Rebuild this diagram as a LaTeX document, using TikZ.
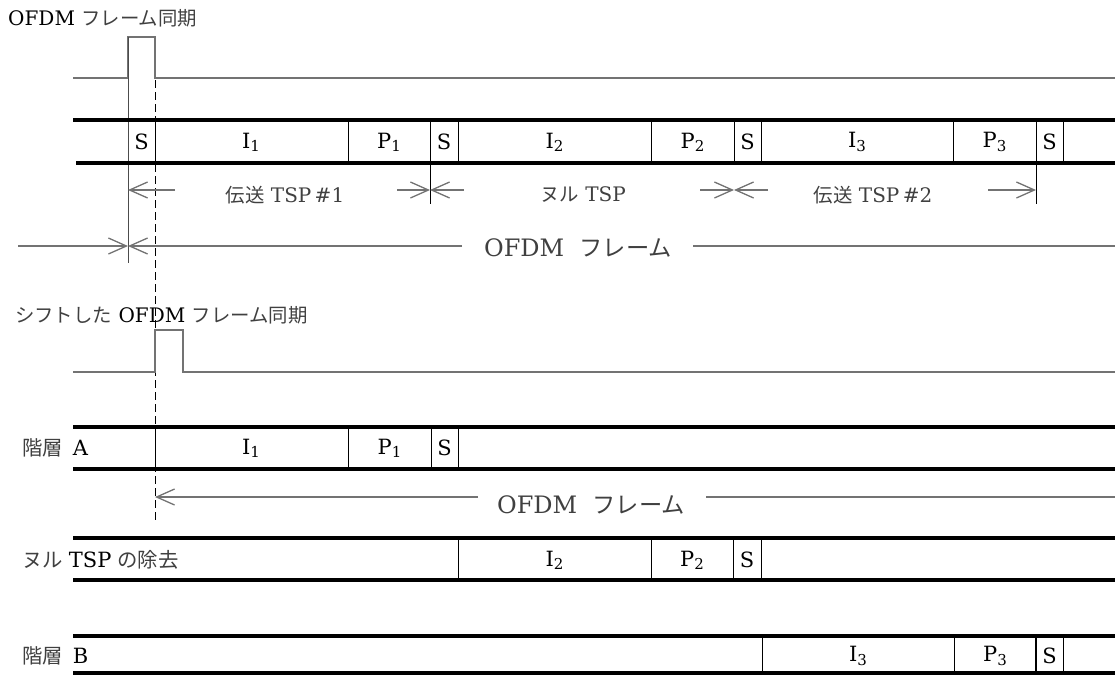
\documentclass[tikz,border=0pt]{standalone}
\usepackage{fontspec}
\setmainfont{DejaVu Serif}
\newfontfamily\jp{Noto Sans CJK JP}[Scale=0.97]
\usetikzlibrary{arrows.meta}
\newcommand{\jt}[1]{{\jp #1}}
\newcommand{\lsub}[1]{\raisebox{-0.3ex}{\fontsize{15}{15}\selectfont #1}}
\begin{document}
\begin{tikzpicture}[x=1pt,y=-1pt,
  bar/.style={line width=4.5pt,black},
  cell/.style={line width=0.9pt,black},
  sig/.style={line width=1.4pt,black!55},
  dim/.style={line width=1.3pt,black!55},
  barb/.style={-{Straight Barb[length=18pt,width=16pt,line width=1.3pt]}},
  dashv/.style={line width=1pt,black,dash pattern=on 8pt off 4pt},
  lab/.style={inner sep=0pt,font=\fontsize{21}{24}\selectfont,text=black},
  ann/.style={inner sep=0pt,font=\fontsize{20}{24}\selectfont,text=black!75},
  rowl/.style={inner sep=0pt,font=\fontsize{21}{24}\selectfont,text=black!75},
  frm/.style={inner sep=0pt,font=\fontsize{24}{28}\selectfont,text=black!75}]
\useasboundingbox (0,0) rectangle (1115,675);

% ---------- top sync pulse ----------
\node[ann,anchor=west] (t1) at (8,18) {\textcolor{black}{OFDM} \jt{フレーム同期}};
\draw[sig] (73,78) -- (128,78) -- (128,37) -- (155,37) -- (155,78) -- (1115,78);
\draw[line width=1pt,black!70] (128,37) -- (128,263);
\draw[dashv] (155,80) -- (155,520);

% ---------- row 1 ----------
\draw[bar] (73,120) -- (1115,120);
\draw[bar] (76,163) -- (1115,163);
\foreach \x in {155,348,430,458,651,734,761,953,1036,1063}
  \draw[cell] (\x,121) -- (\x,162);
\draw[cell] (430,163) -- (430,204);
\draw[cell] (1036,163) -- (1036,204);
\node[lab] (s1) at (141.5,142) {S};
\node[lab] (i1) at (251,142) {I\lsub{1}};
\node[lab] (p1) at (389,142) {P\lsub{1}};
\node[lab] (s2) at (444,142) {S};
\node[lab] (i2) at (554.5,142) {I\lsub{2}};
\node[lab] (p2) at (692.5,142) {P\lsub{2}};
\node[lab] (s3) at (747.5,142) {S};
\node[lab] (i3) at (857,142) {I\lsub{3}};
\node[lab] (p3) at (994.5,142) {P\lsub{3}};
\node[lab] (s4) at (1049.5,142) {S};

% ---------- TSP dimension row ----------
\draw[dim,barb] (175,190) -- (128,190);
\node[ann] (tsp1) at (285,195) {\jt{伝送}\ TSP\,\#1};
\draw[dim,barb] (397,190) -- (430,190);
\draw[dim,barb] (464,190) -- (430,190);
\node[ann] (ntsp) at (583,195) {\jt{ヌル} TSP};
\draw[dim,barb] (700,190) -- (734,190);
\draw[dim,barb] (768,190) -- (734,190);
\node[ann] (tsp2) at (873,195) {\jt{伝送}\ TSP\,\#2};
\draw[dim,barb] (988,190) -- (1036,190);

% ---------- OFDM frame row 1 ----------
\draw[dim,barb] (18,246) -- (128,246);
\draw[dim,barb] (462,246) -- (128,246);
\node[frm] (f1) at (578,248) {OFDM\ \ \jt{フレーム}};
\draw[dim] (693,246) -- (1115,246);

% ---------- shifted sync pulse ----------
\node[ann,anchor=west] (t2) at (15,315) {\jt{シフトした} \textcolor{black}{OFDM} \jt{フレーム同期}};
\draw[sig] (73,372) -- (155,372) -- (155,330) -- (183,330) -- (183,372) -- (1115,372);

% ---------- layer A ----------
\draw[bar] (73,427) -- (1115,427);
\draw[bar] (73,469) -- (1115,469);
\foreach \x in {155,348,431,458}
  \draw[cell] (\x,428) -- (\x,468);
\node[rowl,anchor=west] (la) at (22,448) {\jt{階層}\hspace{10pt}\textcolor{black}{A}};
\node[lab] (ai1) at (251,448) {I\lsub{1}};
\node[lab] (ap1) at (389.5,448) {P\lsub{1}};
\node[lab] (as1) at (444.5,448) {S};

% ---------- OFDM frame row 2 ----------
\draw[dim,barb] (478,497) -- (155,497);
\node[frm] (f2) at (591,505) {OFDM\ \ \jt{フレーム}};
\draw[dim] (706,497) -- (1115,497);

% ---------- null TSP removal ----------
\draw[bar] (73,538) -- (1115,538);
\draw[bar] (73,580) -- (1115,580);
\foreach \x in {458,651,733,761}
  \draw[cell] (\x,539) -- (\x,579);
\node[rowl,anchor=west] (ln) at (22,560) {\jt{ヌル}\hspace{6pt}\textcolor{black}{TSP}\hspace{6pt}\jt{の除去}};
\node[lab] (ni2) at (554.5,560) {I\lsub{2}};
\node[lab] (np2) at (692,560) {P\lsub{2}};
\node[lab] (ns) at (747,560) {S};

% ---------- layer B ----------
\draw[bar] (73,636) -- (1115,636);
\draw[bar] (73,673) -- (1115,673);
\foreach \x in {762,954,1063}
  \draw[cell] (\x,637) -- (\x,672);
\draw[line width=1.8pt] (1036,637) -- (1036,672);
\node[rowl,anchor=west] (lb) at (22,656) {\jt{階層}\hspace{10pt}\textcolor{black}{B}};
\node[lab] (bi3) at (858,656) {I\lsub{3}};
\node[lab] (bp3) at (995,656) {P\lsub{3}};
\node[lab] (bs) at (1049.5,656) {S};
\end{tikzpicture}
\end{document}
